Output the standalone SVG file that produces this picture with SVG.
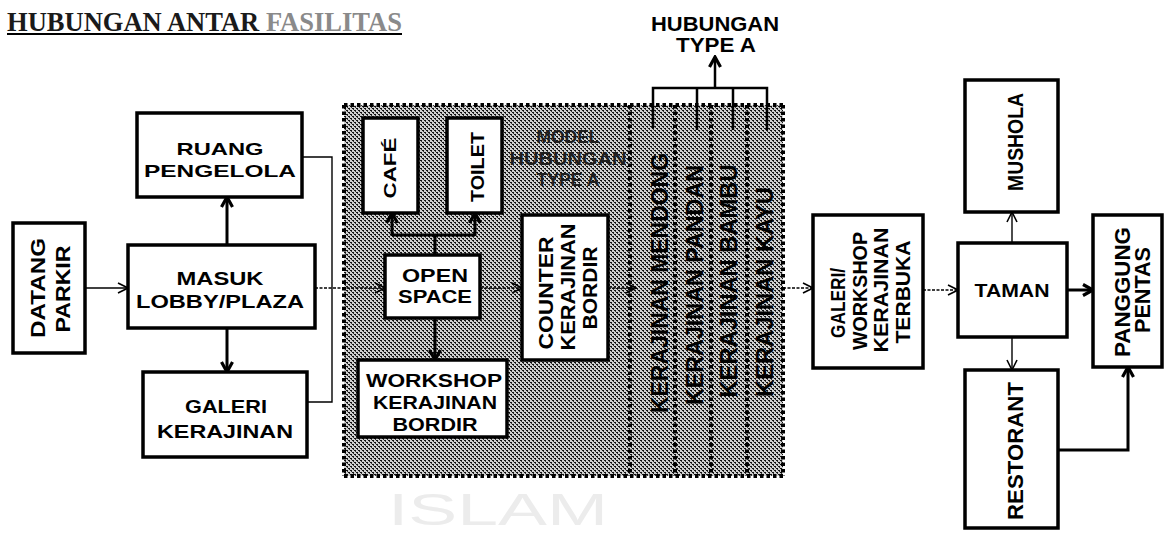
<svg xmlns="http://www.w3.org/2000/svg" width="1165" height="533" viewBox="0 0 1165 533">
<defs>
<pattern id="ht" width="4" height="4" patternUnits="userSpaceOnUse">
<rect width="4" height="4" fill="#d0d0d0"/>
<rect x="0" y="0" width="2" height="1" fill="#111"/>
<rect x="2" y="2" width="2" height="1" fill="#111"/>
<rect x="1" y="1" width="1" height="1" fill="#333"/>
<rect x="3" y="3" width="1" height="1" fill="#333"/>
</pattern>
<marker id="ah" viewBox="0 0 12 12" refX="11" refY="6" markerWidth="12" markerHeight="12" markerUnits="userSpaceOnUse" orient="auto">
<path d="M1,1 L11,6 L1,11" fill="none" stroke="#000" stroke-width="1.6"/>
</marker>
<marker id="ahb" viewBox="0 0 14 14" refX="12" refY="7" markerWidth="14" markerHeight="14" markerUnits="userSpaceOnUse" orient="auto">
<path d="M2,1.5 L12,7 L2,12.5" fill="none" stroke="#000" stroke-width="3.2"/>
</marker>
</defs>
<style>
.box{fill:#fff;stroke:#000;stroke-width:3.5}
.t{font-family:"Liberation Sans",Arial,sans-serif;font-weight:bold;fill:#000;text-anchor:middle}
.thin{fill:none;stroke:#000;stroke-width:1.4}
.dot{fill:none;stroke:#000;stroke-width:1.4;stroke-dasharray:3 1.5}
.thick{fill:none;stroke:#000;stroke-width:3}
.br{fill:none;stroke:#000;stroke-width:2.5}
.dl{fill:none;stroke:#000;stroke-width:4;stroke-dasharray:3.5 3}
.gt{font-family:"Liberation Sans",Arial,sans-serif;font-weight:bold;fill:#1e1e1e;text-anchor:middle}
.st{font-family:"Liberation Sans",Arial,sans-serif;font-weight:bold;fill:#000;text-anchor:middle}
</style>
<rect width="1165" height="533" fill="#fff"/>

<text x="388" y="525" font-family="Liberation Sans, Arial, sans-serif" font-size="45" fill="#ececec" textLength="220" lengthAdjust="spacingAndGlyphs">ISLAM</text>

<g id="title">
<text x="7" y="31" font-family="Liberation Serif, Times New Roman, serif" font-weight="bold" font-size="27" fill="#1a1a1a" textLength="395" lengthAdjust="spacingAndGlyphs">HUBUNGAN ANTAR <tspan fill="#8a8a8a">FASILITAS</tspan></text>
<line x1="7" y1="34" x2="402" y2="34" stroke="#000" stroke-width="2"/>
</g>

<g id="zone-type-a">
<rect x="344" y="105" width="439" height="371" fill="url(#ht)"/>
<path class="dl" d="M344,105 H783 M344,105 V476 M344,476 H783 M630,105 V476 M675,105 V476 M711,105 V476 M747,105 V476 M783,105 V476"/>
<text class="gt" font-size="18" x="568" y="143" textLength="63" lengthAdjust="spacingAndGlyphs">MODEL</text>
<text class="gt" font-size="18" x="568" y="165" textLength="117" lengthAdjust="spacingAndGlyphs">HUBUNGAN</text>
<text class="gt" font-size="18" x="568" y="186" textLength="63" lengthAdjust="spacingAndGlyphs">TYPE A</text>
<text class="st" font-size="24" transform="translate(668,283) rotate(-90)" textLength="260" lengthAdjust="spacingAndGlyphs">KERAJINAN MENDONG</text>
<text class="st" font-size="24" transform="translate(703,285) rotate(-90)" textLength="240" lengthAdjust="spacingAndGlyphs">KERAJINAN PANDAN</text>
<text class="st" font-size="24" transform="translate(737,281) rotate(-90)" textLength="233" lengthAdjust="spacingAndGlyphs">KERAJINAN BAMBU</text>
<text class="st" font-size="24" transform="translate(773,292) rotate(-90)" textLength="210" lengthAdjust="spacingAndGlyphs">KERAJINAN KAYU</text>
</g>

<g id="label-hubungan-type-a">
<text class="t" font-size="21" x="715" y="31" textLength="128" lengthAdjust="spacingAndGlyphs">HUBUNGAN</text>
<text class="t" font-size="21" x="716" y="52" textLength="80" lengthAdjust="spacingAndGlyphs">TYPE A</text>
</g>

<g id="connectors">
<path class="thin" d="M85,288 H128" marker-end="url(#ah)"/>
<path class="thick" d="M227,245 V197" marker-end="url(#ahb)"/>
<path class="thick" d="M227,328 V372" marker-end="url(#ahb)"/>
<path class="thin" d="M302,157 H332 V402 H307"/>
<path class="dot" d="M315,288 H385" marker-end="url(#ah)"/>
<path class="thick" d="M435,255 V235 M392,235 H475"/>
<path class="thick" d="M392,236 V213" marker-end="url(#ahb)"/>
<path class="thick" d="M475,236 V213" marker-end="url(#ahb)"/>
<path class="thick" d="M435,318 V360" marker-end="url(#ahb)"/>
<path class="dot" d="M480,288 H522" marker-end="url(#ah)"/>
<path class="dot" d="M608,288 H636" marker-end="url(#ah)"/>
<path class="dot" d="M783,288 H813" marker-end="url(#ah)"/>
<path class="dot" d="M923,290 H958" marker-end="url(#ah)"/>
<path class="thick" d="M1067,290 H1093" marker-end="url(#ahb)"/>
<path class="thin" d="M1012,243 V212" marker-end="url(#ah)"/>
<path class="thin" d="M1012,337 V370" marker-end="url(#ah)"/>
<path class="thick" d="M1058,450 H1128 V367" marker-end="url(#ahb)"/>
<path class="br" d="M653,128 V88 H767 V130 M697,88 V130 M733,88 V130"/>
<path class="br" d="M715,88 V57" marker-end="url(#ahb)"/>
</g>

<g id="datang-parkir">
<rect class="box" x="13" y="223" width="72" height="130"/>
<text class="t" font-size="20" transform="translate(45,288) rotate(-90)" textLength="100" lengthAdjust="spacingAndGlyphs">DATANG</text>
<text class="t" font-size="20" transform="translate(70,289) rotate(-90)" textLength="87" lengthAdjust="spacingAndGlyphs">PARKIR</text>
</g>

<g id="ruang-pengelola">
<rect class="box" x="137" y="113" width="165" height="84"/>
<text class="t" font-size="17" x="220" y="155" textLength="87" lengthAdjust="spacingAndGlyphs">RUANG</text>
<text class="t" font-size="17" x="220" y="177" textLength="152" lengthAdjust="spacingAndGlyphs">PENGELOLA</text>
</g>

<g id="masuk-lobby">
<rect class="box" x="128" y="245" width="187" height="83"/>
<text class="t" font-size="18" x="220" y="285" textLength="87" lengthAdjust="spacingAndGlyphs">MASUK</text>
<text class="t" font-size="18" x="220" y="308" textLength="168" lengthAdjust="spacingAndGlyphs">LOBBY/PLAZA</text>
</g>

<g id="galeri-kerajinan">
<rect class="box" x="143" y="372" width="164" height="85"/>
<text class="t" font-size="19" x="226" y="413" textLength="82" lengthAdjust="spacingAndGlyphs">GALERI</text>
<text class="t" font-size="19" x="225" y="438" textLength="136" lengthAdjust="spacingAndGlyphs">KERAJINAN</text>
</g>

<g id="cafe">
<rect class="box" x="363" y="118" width="55" height="95"/>
<text class="t" font-size="17" transform="translate(396,168) rotate(-90)" textLength="61" lengthAdjust="spacingAndGlyphs">CAFÉ</text>
</g>

<g id="toilet">
<rect class="box" x="447" y="118" width="55" height="95"/>
<text class="t" font-size="18" transform="translate(484,167) rotate(-90)" textLength="70" lengthAdjust="spacingAndGlyphs">TOILET</text>
</g>

<g id="open-space">
<rect class="box" x="385" y="255" width="95" height="63"/>
<text class="t" font-size="19" x="435" y="282" textLength="66" lengthAdjust="spacingAndGlyphs">OPEN</text>
<text class="t" font-size="19" x="435" y="303" textLength="74" lengthAdjust="spacingAndGlyphs">SPACE</text>
</g>

<g id="workshop-bordir">
<rect class="box" x="358" y="360" width="149" height="77"/>
<text class="t" font-size="19" x="434" y="387" textLength="136" lengthAdjust="spacingAndGlyphs">WORKSHOP</text>
<text class="t" font-size="19" x="435" y="409" textLength="124" lengthAdjust="spacingAndGlyphs">KERAJINAN</text>
<text class="t" font-size="19" x="435" y="431" textLength="85" lengthAdjust="spacingAndGlyphs">BORDIR</text>
</g>

<g id="counter-bordir">
<rect class="box" x="522" y="215" width="86" height="145"/>
<text class="t" font-size="21" transform="translate(553,293) rotate(-90)" textLength="113" lengthAdjust="spacingAndGlyphs">COUNTER</text>
<text class="t" font-size="21" transform="translate(575,287) rotate(-90)" textLength="127" lengthAdjust="spacingAndGlyphs">KERAJINAN</text>
<text class="t" font-size="21" transform="translate(597,288) rotate(-90)" textLength="83" lengthAdjust="spacingAndGlyphs">BORDIR</text>
</g>

<g id="galeri-workshop-terbuka">
<rect class="box" x="813" y="215" width="110" height="153"/>
<text class="t" font-size="21" transform="translate(845,303) rotate(-90)" textLength="70" lengthAdjust="spacingAndGlyphs">GALERI/</text>
<text class="t" font-size="21" transform="translate(867,291) rotate(-90)" textLength="118" lengthAdjust="spacingAndGlyphs">WORKSHOP</text>
<text class="t" font-size="21" transform="translate(888,290) rotate(-90)" textLength="125" lengthAdjust="spacingAndGlyphs">KERAJINAN</text>
<text class="t" font-size="21" transform="translate(910,292) rotate(-90)" textLength="103" lengthAdjust="spacingAndGlyphs">TERBUKA</text>
</g>

<g id="taman">
<rect class="box" x="958" y="243" width="109" height="94"/>
<text class="t" font-size="19" x="1012" y="297" textLength="75" lengthAdjust="spacingAndGlyphs">TAMAN</text>
</g>

<g id="mushola">
<rect class="box" x="965" y="80" width="93" height="132"/>
<text class="t" font-size="22" transform="translate(1023,142) rotate(-90)" textLength="98" lengthAdjust="spacingAndGlyphs">MUSHOLA</text>
</g>

<g id="panggung-pentas">
<rect class="box" x="1093" y="215" width="69" height="152"/>
<text class="t" font-size="22" transform="translate(1130,292) rotate(-90)" textLength="130" lengthAdjust="spacingAndGlyphs">PANGGUNG</text>
<text class="t" font-size="22" transform="translate(1150,290) rotate(-90)" textLength="86" lengthAdjust="spacingAndGlyphs">PENTAS</text>
</g>

<g id="restorant">
<rect class="box" x="965" y="370" width="93" height="158"/>
<text class="t" font-size="22" transform="translate(1023,451) rotate(-90)" textLength="138" lengthAdjust="spacingAndGlyphs">RESTORANT</text>
</g>
</svg>
